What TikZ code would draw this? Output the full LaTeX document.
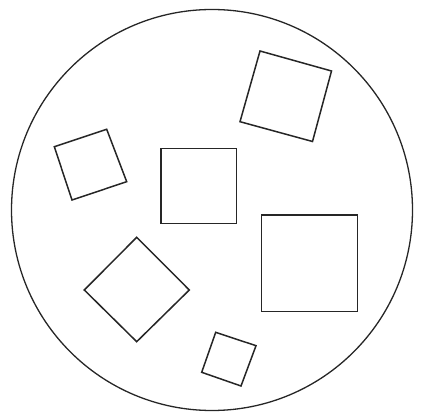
\documentclass[tikz,border=0pt]{standalone}
\begin{document}
\begin{tikzpicture}[x=1pt,y=-1pt,
  shp/.style={draw=black!85,line width=1.5pt,line join=miter},
  rim/.style={draw=black!85,line width=1.3pt}]
\useasboundingbox (0,0) rectangle (425,419);
\node[rim,circle,minimum size=401pt,inner sep=0pt] (dish) at (212,210) {};
\coordinate (a1) at (260,51);
\coordinate (a2) at (331.5,71);
\coordinate (a3) at (312.5,141.5);
\coordinate (a4) at (240,121.7);
\draw[shp] (a1) -- (a2) -- (a3) -- (a4) -- cycle;
\coordinate (b1) at (54.3,146.7);
\coordinate (b2) at (106.7,129.3);
\coordinate (b3) at (126.7,181.7);
\coordinate (b4) at (72,200);
\draw[shp] (b1) -- (b2) -- (b3) -- (b4) -- cycle;
\coordinate (c1) at (161,148.3);
\coordinate (c2) at (236.5,148.3);
\coordinate (c3) at (236.5,223.3);
\coordinate (c4) at (161,223.3);
\draw[shp] (c1) -- (c2) -- (c3) -- (c4) -- cycle;
\coordinate (d1) at (261.7,215);
\coordinate (d2) at (357.5,215);
\coordinate (d3) at (357.5,311.5);
\coordinate (d4) at (261.7,311.5);
\draw[shp] (d1) -- (d2) -- (d3) -- (d4) -- cycle;
\coordinate (e1) at (136.7,237.3);
\coordinate (e2) at (189.3,290);
\coordinate (e3) at (136.7,341.7);
\coordinate (e4) at (84.3,290);
\draw[shp] (e1) -- (e2) -- (e3) -- (e4) -- cycle;
\coordinate (f1) at (215.7,332.3);
\coordinate (f2) at (256,345.7);
\coordinate (f3) at (241,386);
\coordinate (f4) at (201.7,372.3);
\draw[shp] (f1) -- (f2) -- (f3) -- (f4) -- cycle;
\end{tikzpicture}
\end{document}
